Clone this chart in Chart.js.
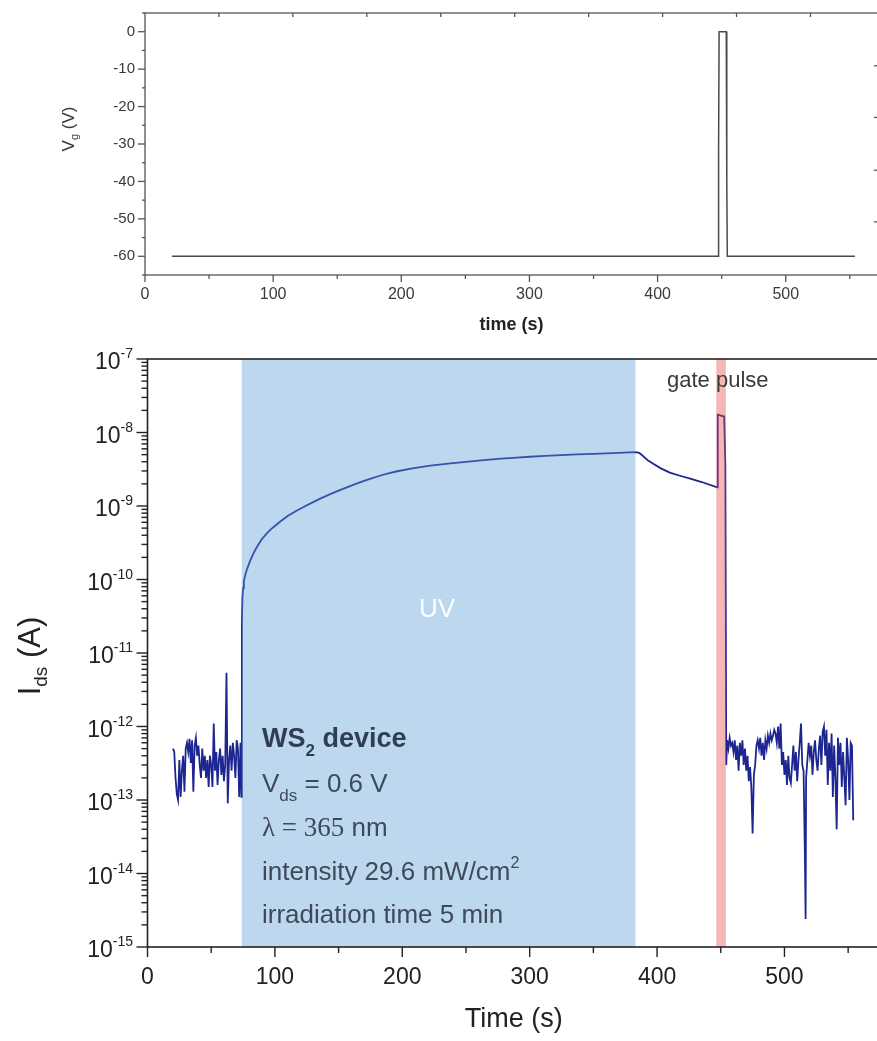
<!DOCTYPE html>
<html><head><meta charset="utf-8">
<script src="https://cdn.jsdelivr.net/npm/chart.js@4.4.1/dist/chart.umd.min.js"></script>
<style>
html,body{margin:0;padding:0;background:#fff;overflow:hidden;width:877px;height:1041px;}
canvas{position:absolute;left:0;}
#top{top:0}
#bot{top:335px}
</style></head><body>
<canvas id="top" width="900" height="335"></canvas>
<canvas id="bot" width="900" height="706"></canvas>
<script>
// ---------- top panel: gate voltage ----------
const gateTime    = [21, 447.2, 447.6, 448.0, 453.6, 454.0, 454.4, 554];
const gateVoltage = [-60, -60, -31.5, 0, 0, -40, -60, -60];
const gateXTicks  = [0, 100, 200, 300, 400, 500];
const gateXMinor  = [50, 150, 250, 350, 450, 550];
const gateYTicks  = [0, -10, -20, -30, -40, -50, -60];
const gateYMinor  = [5, -5, -15, -25, -35, -45, -55, -65];
const gateTopEdgeTicks   = [57.7, 115.4, 173.1, 230.8, 288.5, 346.2, 403.9, 461.6, 519.3];
const gateRightEdgeTicks = [-9.1, -22.9, -37.0, -50.8];

// ---------- bottom panel: drain current ----------
const preUvTime = [20,21,22,23,24,25,26,27,28,29,30,31,32,33,34,35,36,37,38,39,40,41,42,43,44,45,46,47,48,49,50,51,52,53,54,55,56,57,58,59,60,61,62,63,64,65,66,67,68,69,70,71,72,73,73.7];
const preUvCurrent = [5.0e-13,4.5e-13,2.0e-13,1.2e-13,1.0e-13,3.5e-13,1.1e-13,2.5e-13,4.0e-13,1.3e-13,5.0e-13,6.0e-13,4.5e-13,6.8e-13,3.2e-13,6.5e-13,1.3e-13,5.5e-13,7.0e-13,4.0e-13,5.5e-13,3.0e-13,2.0e-13,5.0e-13,2.5e-13,4.0e-13,2.0e-13,3.5e-13,1.5e-13,4.0e-13,3.0e-13,1.5e-13,1.1e-12,2.5e-13,4.5e-13,1.6e-13,3.5e-13,5.0e-13,2.2e-13,4.0e-13,1.8e-13,3.0e-13,5.4e-12,9.0e-14,3.5e-13,5.5e-13,2.5e-13,6.0e-13,4.0e-13,2.0e-13,6.5e-13,5.0e-13,1.1e-13,6.0e-13,1.1e-13];
const uvTime = [74.1,74.5,75,75.6,76.3,77,78,79,80.5,82,83.5,85,87,89,91,94,97,100,104,110,117,124,130,136,143,150,156,163,170,176,183,189,196,209,222,236,250,262,275,287,300,312,325,337,350,365,383];
const uvCurrent = [2.5e-11,5.5e-11,7.6e-11,9.2e-11,1.07e-10,1.2e-10,1.36e-10,1.52e-10,1.78e-10,2.05e-10,2.32e-10,2.6e-10,2.98e-10,3.38e-10,3.75e-10,4.3e-10,4.85e-10,5.35e-10,6.1e-10,7.3e-10,8.6e-10,1.0e-9,1.13e-9,1.27e-9,1.44e-9,1.62e-9,1.78e-9,1.98e-9,2.2e-9,2.38e-9,2.6e-9,2.78e-9,2.97e-9,3.27e-9,3.55e-9,3.78e-9,3.98e-9,4.18e-9,4.37e-9,4.53e-9,4.68e-9,4.8e-9,4.92e-9,5.03e-9,5.13e-9,5.25e-9,5.4e-9];
const decayTime = [386,388,390,393,397,403,410,418,426,435,447.2];
const decayCurrent = [5.3e-9,4.95e-9,4.6e-9,4.15e-9,3.75e-9,3.25e-9,2.85e-9,2.58e-9,2.35e-9,2.12e-9,1.8e-9];
const pulseTime = [447.5,447.8,452.7,453.6,454.3];
const pulseCurrent = [8e-9,1.75e-8,1.65e-8,3.6e-9,3e-13];
const postTime = [455,456,457,458,459,460,461,462,463,464,465,466,467,468,469,470,471,472,473,474,475,476,477,478,479,480,481,482,483,484,485,486,487,488,489,490,491,492,493,494,495,496,497,498,499,500,501,502,503,504,505,506,507,508,509,510,511,512,513,514,515,516,516.6,517,518,519,520,521,522,523,524,525,526,527,528,529,530,531,532,533,534,535,536,537,538,539,540,541,542,543,544,545,546,547,548,549,550,551,552,553,554];
const postCurrent = [6.5e-13,5.0e-13,7.0e-13,5.5e-13,6.0e-13,4.5e-13,6.5e-13,3.5e-13,5.5e-13,2.5e-13,6.0e-13,4.0e-13,6.5e-13,3.0e-13,5.0e-13,2.5e-13,4.0e-13,1.8e-13,2.8e-13,1.5e-13,3.5e-14,2.2e-13,3.0e-13,5.5e-13,6.5e-13,5.0e-13,7.0e-13,4.0e-13,6.0e-13,3.5e-13,6.5e-13,5.0e-13,7.5e-13,6.0e-13,8.0e-13,6.5e-13,7.5e-13,9.0e-13,8.0e-13,6.0e-13,1.0e-12,5.0e-13,1.1e-12,3.0e-13,4.5e-13,2.2e-13,3.5e-13,1.6e-13,4.0e-13,2.0e-13,1.7e-13,3.0e-13,5.5e-13,2.5e-13,4.5e-13,1.8e-13,3.5e-13,6.0e-13,1.1e-12,3.0e-13,2.5e-13,2.0e-14,2.4e-15,2.0e-13,3.5e-13,6.0e-13,4.0e-13,5.5e-13,2.2e-13,4.5e-13,6.5e-13,3.5e-13,2.5e-13,5.0e-13,7.5e-13,3.0e-13,8.5e-13,1.0e-12,4.0e-13,9.0e-13,1.6e-13,6.0e-13,2.5e-13,8.0e-13,1.1e-13,5.5e-13,2.0e-13,4.0e-14,7.0e-13,3.0e-13,6.0e-13,1.5e-13,4.5e-13,2.0e-13,8.5e-14,7.0e-13,3.5e-13,1.0e-13,6.0e-13,5.5e-13,5.3e-14];

const currXTicks = [0, 100, 200, 300, 400, 500];
const currXMinor = [50, 150, 250, 350, 450, 550];
const currDecades = [-7, -8, -9, -10, -11, -12, -13, -14, -15];
const uvWindow = [74, 383];
const pulseWindow = [446.5, 454];

const SANS = '"Liberation Sans", Arial, sans-serif';
const SERIF = '"Liberation Serif", "Times New Roman", serif';

function seg(ctx, x1, y1, x2, y2){ ctx.beginPath(); ctx.moveTo(x1,y1); ctx.lineTo(x2,y2); ctx.stroke(); }

// ---------- top chart ----------
const topAxes = {
  id: 'topAxes',
  afterDraw(chart){
    const ctx = chart.ctx, a = chart.chartArea, xs = chart.scales.x, ys = chart.scales.y;
    ctx.save();
    ctx.strokeStyle = '#555'; ctx.lineWidth = 1.3;
    ctx.strokeRect(a.left, a.top, a.right - a.left, a.bottom - a.top);
    ctx.fillStyle = '#3a3a3a';
    ctx.font = '15px ' + SANS;
    ctx.textAlign = 'right'; ctx.textBaseline = 'middle';
    gateYTicks.forEach(v => { const y = ys.getPixelForValue(v); seg(ctx, a.left - 7, y, a.left, y); ctx.fillText(String(v), a.left - 10, y); });
    gateYMinor.forEach(v => { const y = ys.getPixelForValue(v); seg(ctx, a.left - 3, y, a.left, y); });
    ctx.textAlign = 'center'; ctx.textBaseline = 'middle';
    ctx.font = '16px ' + SANS;
    gateXTicks.forEach(v => { const x = xs.getPixelForValue(v); seg(ctx, x, a.bottom, x, a.bottom + 7); ctx.fillText(String(v), x, a.bottom + 20); });
    gateXMinor.forEach(v => { const x = xs.getPixelForValue(v); seg(ctx, x, a.bottom, x, a.bottom + 4); });
    gateTopEdgeTicks.forEach(v => { const x = xs.getPixelForValue(v); seg(ctx, x, a.top, x, a.top + 4); });
    gateRightEdgeTicks.forEach(v => { const y = ys.getPixelForValue(v); seg(ctx, a.right - 4, y, a.right, y); });
    // x title
    ctx.font = 'bold 18px ' + SANS;
    ctx.fillStyle = '#222';
    ctx.fillText('time (s)', (a.left + a.right) / 2, 325);
    // y title with subscript
    ctx.save();
    ctx.translate(68, 129); ctx.rotate(-Math.PI / 2);
    ctx.fillStyle = '#3a3a3a';
    const f1 = '17px ' + SANS, f2 = '11px ' + SANS;
    ctx.font = f1; const wV = ctx.measureText('V').width, wR = ctx.measureText(' (V)').width;
    ctx.font = f2; const wg = ctx.measureText('g').width;
    let sx = -(wV + wg + wR) / 2;
    ctx.textAlign = 'left'; ctx.textBaseline = 'alphabetic';
    ctx.font = f1; ctx.fillText('V', sx, 6);
    ctx.font = f2; ctx.fillText('g', sx + wV, 10);
    ctx.font = f1; ctx.fillText(' (V)', sx + wV + wg, 6);
    ctx.restore();
    ctx.restore();
  }
};

new Chart(document.getElementById('top'), {
  type: 'line',
  data: { datasets: [{ data: gateTime.map((t, i) => ({ x: t, y: gateVoltage[i] })), borderColor: '#4a4a4a', borderWidth: 1.5, pointRadius: 0, tension: 0, fill: false }] },
  options: {
    responsive: false, animation: false, devicePixelRatio: 1,
    layout: { padding: { left: 0, top: 13, right: 22, bottom: 0 } },
    plugins: { legend: { display: false }, tooltip: { enabled: false } },
    scales: {
      x: { type: 'linear', min: 0, max: 572, ticks: { display: false }, grid: { display: false }, border: { display: false }, afterFit(s){ s.height = 60; } },
      y: { type: 'linear', min: -65, max: 5, ticks: { display: false }, grid: { display: false }, border: { display: false }, afterFit(s){ s.width = 145; } }
    }
  },
  plugins: [topAxes]
});

// ---------- bottom chart ----------
const bands = {
  id: 'bands',
  afterDatasetsDraw(chart){
    const ctx = chart.ctx, a = chart.chartArea, xs = chart.scales.x;
    ctx.save();
    ctx.fillStyle = 'rgba(91,155,213,0.4)';
    let x1 = xs.getPixelForValue(uvWindow[0]), x2 = xs.getPixelForValue(uvWindow[1]);
    ctx.fillRect(x1, a.top, x2 - x1, a.bottom - a.top);
    ctx.fillStyle = 'rgba(230,80,80,0.42)';
    x1 = xs.getPixelForValue(pulseWindow[0]); x2 = xs.getPixelForValue(pulseWindow[1]);
    ctx.fillRect(x1, a.top, x2 - x1, a.bottom - a.top);
    ctx.restore();
  }
};

const botAxes = {
  id: 'botAxes',
  afterDraw(chart){
    const ctx = chart.ctx, a = chart.chartArea, xs = chart.scales.x, ys = chart.scales.y;
    ctx.save();
    ctx.strokeStyle = '#222'; ctx.lineWidth = 1.6;
    ctx.strokeRect(a.left, a.top, a.right - a.left, a.bottom - a.top);
    ctx.lineWidth = 1.4;
    ctx.fillStyle = '#222';
    // y ticks
    currDecades.forEach(e => {
      const y = ys.getPixelForValue(Math.pow(10, e));
      seg(ctx, a.left - 11, y, a.left, y);
      if (e > -15) for (let m = 2; m <= 9; m++) { const ym = ys.getPixelForValue(m * Math.pow(10, e - 1)); seg(ctx, a.left - 6, ym, a.left, ym); }
      const fb = '23px ' + SANS, fe = '14px ' + SANS;
      ctx.font = fb; const wb = ctx.measureText('10').width;
      ctx.font = fe; const we = ctx.measureText(String(e)).width;
      const sx = 133 - wb - we;
      ctx.textAlign = 'left'; ctx.textBaseline = 'alphabetic';
      ctx.font = fb; ctx.fillText('10', sx, y + 10);
      ctx.font = fe; ctx.fillText(String(e), sx + wb, y - 1);
    });
    // x ticks
    ctx.textAlign = 'center'; ctx.textBaseline = 'middle';
    ctx.font = '23px ' + SANS;
    currXTicks.forEach(v => { const x = xs.getPixelForValue(v); seg(ctx, x, a.bottom, x, a.bottom + 10); ctx.fillText(String(v), x, a.bottom + 31); });
    currXMinor.forEach(v => { const x = xs.getPixelForValue(v); seg(ctx, x, a.bottom, x, a.bottom + 6); });
    // x title
    ctx.font = '27px ' + SANS;
    ctx.fillText('Time (s)', (a.left + a.right) / 2, 685);
    // y title
    ctx.save();
    ctx.translate(30, 321); ctx.rotate(-Math.PI / 2);
    const t1 = '31px ' + SANS, t2 = '19px ' + SANS;
    ctx.font = t1; const wI = ctx.measureText('I').width, wA = ctx.measureText(' (A)').width;
    ctx.font = t2; const wd = ctx.measureText('ds').width;
    let sx = -(wI + wd + wA) / 2;
    ctx.textAlign = 'left'; ctx.textBaseline = 'alphabetic';
    ctx.font = t1; ctx.fillText('I', sx, 10);
    ctx.font = t2; ctx.fillText('ds', sx + wI, 17);
    ctx.font = t1; ctx.fillText(' (A)', sx + wI + wd, 10);
    ctx.restore();
    // annotations
    ctx.textAlign = 'center'; ctx.textBaseline = 'middle';
    ctx.fillStyle = '#ffffff'; ctx.font = '26px ' + SANS;
    ctx.fillText('UV', 437, 275);
    ctx.fillStyle = '#3a3a3a'; ctx.font = '22px ' + SANS;
    ctx.textAlign = 'left';
    ctx.fillText('gate pulse', 667, 46);
    // info block
    const x0 = 262;
    ctx.textBaseline = 'alphabetic';
    ctx.fillStyle = '#2f3e54';
    ctx.font = 'bold 27px ' + SANS;
    ctx.fillText('WS', x0, 412);
    let w = ctx.measureText('WS').width;
    ctx.font = 'bold 17px ' + SANS; ctx.fillText('2', x0 + w, 421);
    w += ctx.measureText('2').width;
    ctx.font = 'bold 27px ' + SANS; ctx.fillText(' device', x0 + w, 412);
    ctx.fillStyle = '#3f4a59';
    ctx.font = '26px ' + SANS; ctx.fillText('V', x0, 457);
    w = ctx.measureText('V').width;
    ctx.font = '17px ' + SANS; ctx.fillText('ds', x0 + w, 466);
    w += ctx.measureText('ds').width;
    ctx.font = '26px ' + SANS; ctx.fillText(' = 0.6 V', x0 + w, 457);
    ctx.font = '27px ' + SERIF; ctx.fillText('\u03bb = 365', x0, 501);
    w = ctx.measureText('\u03bb = 365').width;
    ctx.font = '26px ' + SANS; ctx.fillText(' nm', x0 + w, 501);
    ctx.fillText('intensity 29.6 mW/cm', x0, 545);
    w = ctx.measureText('intensity 29.6 mW/cm').width;
    ctx.font = '16px ' + SANS; ctx.fillText('2', x0 + w, 533);
    ctx.font = '26px ' + SANS; ctx.fillText('irradiation time 5 min', x0, 588);
    ctx.restore();
  }
};

const currTime = preUvTime.concat(uvTime, decayTime, pulseTime, postTime);
const currAmps = preUvCurrent.concat(uvCurrent, decayCurrent, pulseCurrent, postCurrent);

new Chart(document.getElementById('bot'), {
  type: 'line',
  data: { datasets: [{ data: currTime.map((t, i) => ({ x: t, y: currAmps[i] })), borderColor: '#1c2590', borderWidth: 1.8, pointRadius: 0, tension: 0, fill: false }] },
  options: {
    responsive: false, animation: false, devicePixelRatio: 1,
    layout: { padding: { left: 0, top: 24, right: 20, bottom: 0 } },
    plugins: { legend: { display: false }, tooltip: { enabled: false } },
    scales: {
      x: { type: 'linear', min: 0, max: 575, ticks: { display: false }, grid: { display: false }, border: { display: false }, afterFit(s){ s.height = 94; } },
      y: { type: 'logarithmic', min: 1e-15, max: 1e-7, ticks: { display: false }, grid: { display: false }, border: { display: false }, afterFit(s){ s.width = 147.5; } }
    }
  },
  plugins: [bands, botAxes]
});
</script>
</body></html>
